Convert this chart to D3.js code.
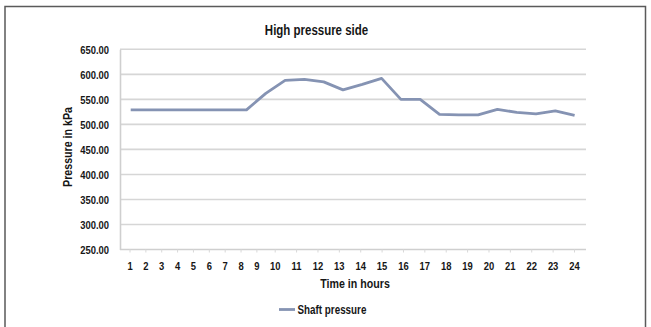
<!DOCTYPE html>
<html>
<head>
<meta charset="utf-8">
<script src="https://cdn.jsdelivr.net/npm/d3@7"></script>
<style>
  html, body { margin: 0; padding: 0; background: #fff; }
  svg { display: block; }
  text { font-family: "Liberation Sans", Arial, sans-serif; font-weight: bold; fill: #161616; }
</style>
</head>
<body>
<script>
// Hourly shaft pressure on the high pressure side (kPa)
const hours = d3.range(1, 25);
const shaftPressure = [529, 529, 529, 529, 529, 529, 529, 562, 588, 590, 585, 569,
                       580, 592, 550, 550, 520, 519, 519, 530, 524, 521, 527, 518];
const yTicks = [250, 300, 350, 400, 450, 500, 550, 600, 650];
const xTickLabels = hours.map(String);
const seriesName = "Shaft pressure";
const chartTitle = "High pressure side";
const xTitle = "Time in hours";
const yTitle = "Pressure in kPa";

const W = 651, H = 327;
const plot = { left: 120, right: 586, top: 49.3, bottom: 249.5 };
const NARROW = 0.82;          // horizontal squeeze for a narrow face
const lineColor = "#8593b3";

const svg = d3.select("body").append("svg").attr("width", W).attr("height", H);

// narrow text centred/anchored at (x, y)
function narrowText(sel, x, y, size, anchor, str) {
  return sel.append("text")
    .attr("transform", `translate(${x},${y}) scale(${NARROW},1)`)
    .attr("text-anchor", anchor)
    .attr("font-size", size)
    .text(str);
}

// outer frame
svg.append("path")
  .attr("d", `M5,${H} V6.5 H645.5 V${H}`)
  .attr("fill", "none").attr("stroke", "#5a5a5a").attr("stroke-width", 1.5);

const y = d3.scaleLinear().domain([250, 650]).range([plot.bottom, plot.top]);
// data points are evenly spaced across the plot
const x = d3.scalePoint().domain(hours).range([130.7, 574.6]);
// hour labels along the category axis
const xLabel = d3.scaleLinear().domain([1, 9, 10, 24]).range([129.5, 256.4, 274.7, 574]);

// horizontal gridlines
svg.append("g").selectAll("line").data(yTicks.filter(d => d > 250)).join("line")
  .attr("x1", plot.left).attr("x2", plot.right)
  .attr("y1", d => y(d)).attr("y2", d => y(d))
  .attr("stroke", "#d6d6d6").attr("stroke-width", 1.6);

// y axis
const yAxis = svg.append("g").attr("transform", `translate(${plot.left},0)`)
  .call(d3.axisLeft(y).tickValues(yTicks).tickFormat(d3.format(".2f")).tickSize(0).tickPadding(11));
yAxis.select(".domain").attr("stroke", "#cfcfcf").attr("stroke-width", 1.6);
yAxis.selectAll(".tick text")
  .attr("font-size", 11.5).attr("dy", "0.34em")
  .attr("x", -11 / NARROW).attr("transform", `scale(${NARROW},1)`)
  .style("font-family", null);
yAxis.attr("font-family", null).attr("font-size", null);

// x axis
const xAxis = svg.append("g").attr("transform", `translate(0,${plot.bottom})`)
  .call(d3.axisBottom(xLabel).tickValues(hours).tickFormat((d, i) => xTickLabels[i])
    .tickSize(3).tickSizeOuter(0).tickPadding(9));
xAxis.select(".domain").attr("d", `M${plot.left},0H${plot.right}`).attr("stroke", "#cfcfcf").attr("stroke-width", 1.6);
xAxis.selectAll(".tick line").attr("stroke", "#d8d8d8");
xAxis.selectAll(".tick text").attr("font-size", 11.5).attr("transform", `scale(${NARROW},1)`);
xAxis.attr("font-family", null).attr("font-size", null);

// series line
svg.append("path")
  .datum(shaftPressure)
  .attr("fill", "none")
  .attr("stroke", lineColor)
  .attr("stroke-width", 2.8)
  .attr("stroke-linejoin", "round")
  .attr("d", d3.line().x((d, i) => x(hours[i])).y(d => y(d)));

// titles
narrowText(svg, 316.5, 34.5, 14, "middle", chartTitle);
narrowText(svg, 355, 287.5, 13, "middle", xTitle);
svg.append("text")
  .attr("transform", `translate(71.5,147) rotate(-90) scale(${NARROW},1)`)
  .attr("text-anchor", "middle").attr("font-size", 13).text(yTitle);

// legend
svg.append("line").attr("x1", 279).attr("x2", 295).attr("y1", 309.5).attr("y2", 309.5)
  .attr("stroke", lineColor).attr("stroke-width", 2.8);
narrowText(svg, 297.5, 313.5, 12, "start", seriesName);
</script>
</body>
</html>
